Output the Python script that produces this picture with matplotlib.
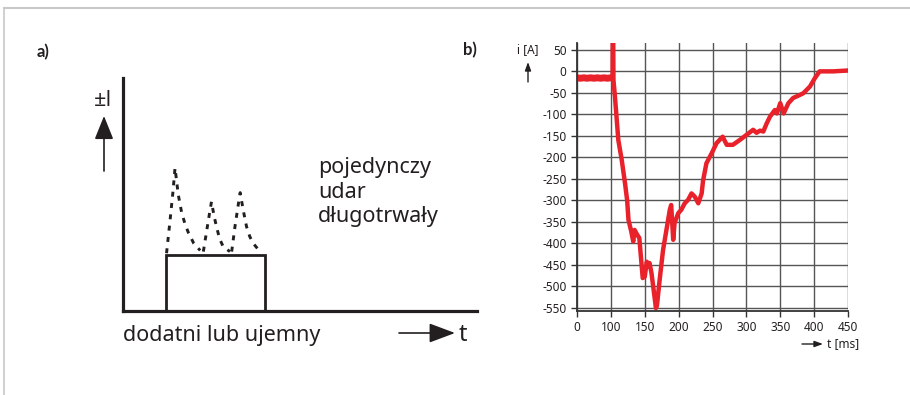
import numpy as np
import matplotlib
matplotlib.use("Agg")
import matplotlib.pyplot as plt
from matplotlib.lines import Line2D
from matplotlib.patches import Rectangle

plt.rcParams['font.family'] = ['Noto Sans', 'DejaVu Sans']
plt.rcParams['axes.unicode_minus'] = False

# ---------------- data ----------------
# panel a) schematic (arbitrary units)
rect_start, rect_end, rect_level = 1.21, 4.01, 2.4
peak1_t = [1.23, 1.33, 1.41, 1.47, 1.56, 1.66, 1.76, 1.85, 2.0, 2.18]
peak1_i = [2.48, 3.9, 5.1, 6.14, 5.0, 4.2, 3.7, 3.35, 2.9, 2.6]
peak2_t = [2.27, 2.37, 2.45, 2.50, 2.57, 2.64, 2.73, 2.83, 3.02]
peak2_i = [2.55, 3.5, 4.25, 4.69, 4.1, 3.62, 3.1, 2.76, 2.55]
peak3_t = [3.07, 3.17, 3.26, 3.31, 3.40, 3.49, 3.58, 3.68, 3.87]
peak3_i = [2.55, 3.7, 4.6, 5.08, 4.3, 3.62, 3.2, 2.90, 2.55]

# panel b) measured current
t_pre = [0, 10, 20, 30, 40, 50, 60, 70, 80, 90, 100, 102.5]
i_pre = [-15, -16, -15, -16, -15, -16, -15, -16, -15, -16, -15, -15]
t_main = [102.5, 103, 103.8, 106, 111, 116, 121, 124, 126, 130, 133, 135, 138, 142, 147, 150,
          153, 155, 157, 160, 162.5, 166.5, 168, 172, 177, 182, 187, 189, 192, 194,
          199.5, 204, 209, 214, 219, 224, 229, 234, 236, 241, 249, 256, 265, 271,
          280, 290, 300, 305, 310, 315, 320, 325, 330, 335, 342, 345, 350, 355, 362, 369,
          376, 384, 394, 401, 408, 428, 450]
i_main = [-15, 200, -20, -59, -160, -206, -262, -300, -346, -372, -396, -369, -378, -388, -481, -478,
          -443, -454, -446, -470, -501, -551, -545, -485, -416, -369, -322, -311, -392, -353,
          -330, -322, -307, -299, -284, -292, -307, -284, -255, -214, -190, -167, -152, -171,
          -171, -160, -148, -142, -136, -143, -138, -140, -121, -105, -90, -98, -74, -98, -74, -62,
          -57, -51, -35, -16, 0, 0, 2]
x_ticks = [0, 100, 150, 200, 250, 300, 350, 400, 450]
y_ticks = list(range(50, -551, -50))

RED = '#e8212b'
DARK = '#231f20'

W, H = 910, 395
fig = plt.figure(figsize=(W / 100, H / 100), dpi=100)

def fx(px):
    return px / W

def fy(py):
    return 1 - py / H

# frame lines of the figure
fig.add_artist(Line2D([fx(4), 1], [fy(8), fy(8)], transform=fig.transFigure,
                      color='#c8c8c8', lw=1.5))
fig.add_artist(Line2D([fx(4), fx(4)], [fy(8), 0], transform=fig.transFigure,
                      color='#c8c8c8', lw=1.2))

# ---------------- panel a ----------------
axa = fig.add_axes([fx(123), fy(311), fx(477) - fx(123), fy(78) - fy(311)])
axa.set_xlim(0, 10)
axa.set_ylim(0, 10)
for s in ['top', 'right']:
    axa.spines[s].set_visible(False)
for s in ['left', 'bottom']:
    axa.spines[s].set_linewidth(2.3)
    axa.spines[s].set_color(DARK)
axa.set_xticks([])
axa.set_yticks([])
axa.patch.set_alpha(0)
axa.add_patch(Rectangle((rect_start, 0), rect_end - rect_start, rect_level,
                        fill=False, lw=2.0, ec=DARK, clip_on=False))
for tt, ii in [(peak1_t, peak1_i), (peak2_t, peak2_i), (peak3_t, peak3_i)]:
    axa.plot(tt, ii, color=DARK, lw=2.1, linestyle=(0, (1.7, 2.2)), solid_capstyle='butt')


def arrow(x0, y0, x1, y1, style, scale, lw):
    axa.annotate('', xy=(x1, H - y1), xytext=(x0, H - y0), xycoords='figure pixels',
                 textcoords='figure pixels', annotation_clip=False,
                 arrowprops=dict(arrowstyle=style, mutation_scale=scale, lw=lw,
                                 color=DARK, shrinkA=0, shrinkB=0))


BOLD = ['Lato', 'Open Sans', 'DejaVu Sans']
fig.text(fx(37), fy(52), 'a)', fontsize=12, fontweight='bold', family=BOLD,
         color=DARK, va='center', ha='left')
fig.text(fx(94), fy(101), '±I', fontsize=15.5, family=['Open Sans', 'DejaVu Sans'],
         color=DARK, va='center', ha='left')
arrow(104, 171, 104, 116, '-|>,head_length=0.72,head_width=0.29', 20, 1.2)
for txt, base in [('pojedynczy', 173), ('udar', 197.5), ('długotrwały', 222)]:
    fig.text(fx(318), fy(base), txt, fontsize=15.5, color=DARK, va='baseline', ha='left')
fig.text(fx(123), fy(341), 'dodatni lub ujemny', fontsize=15.5, color=DARK,
         va='baseline', ha='left')
arrow(399, 333, 455, 333, '-|>,head_length=0.8,head_width=0.3', 20, 1.2)
fig.text(fx(459), fy(341), 't', fontsize=17, color=DARK, va='baseline', ha='left')

# ---------------- panel b ----------------
def fwd(t):
    t = np.asarray(t, dtype=float)
    return np.where(t <= 100, t / 2.0, t - 50.0)

def inv(u):
    u = np.asarray(u, dtype=float)
    return np.where(u <= 50, u * 2.0, u + 50.0)

axb = fig.add_axes([fx(577), fy(310.7), fx(848) - fx(577), fy(43) - fy(310.7)])
axb.set_xscale('function', functions=(fwd, inv))
axb.set_xlim(0, 450)
axb.set_ylim(-557, 66)
axb.set_xticks(x_ticks)
axb.set_xticklabels([str(v) for v in x_ticks])
axb.set_yticks(y_ticks)
axb.set_yticklabels([str(v) for v in y_ticks])
axb.xaxis.set_minor_locator(matplotlib.ticker.NullLocator())
axb.grid(True, color='#555555', lw=1.0)
axb.set_axisbelow(True)
for s in ['top', 'right']:
    axb.spines[s].set_visible(False)
for s in ['left', 'bottom']:
    axb.spines[s].set_linewidth(1.3)
    axb.spines[s].set_color('#333333')
axb.tick_params(axis='both', direction='out', length=4.5, width=1.0, color='#333333',
                labelsize=8.5, labelcolor=DARK)
axb.tick_params(axis='y', pad=3)
axb.tick_params(axis='x', pad=3)

axb.plot(t_pre, i_pre, color=RED, lw=5.0, solid_capstyle='butt', clip_on=True)
axb.plot(t_main, i_main, color=RED, lw=3.2, solid_joinstyle='round', clip_on=True)

fig.text(fx(470), fy(50), 'b)', fontsize=12, fontweight='bold', family=BOLD,
         color=DARK, va='center', ha='center')
fig.text(fx(528), fy(50), 'i [A]', fontsize=8.5, color=DARK, va='center', ha='center')
arrow(528, 82, 528, 62, '-|>,head_length=0.5,head_width=0.18', 10, 1.0)
arrow(802, 344, 823, 344, '-|>,head_length=0.5,head_width=0.18', 10, 1.0)
fig.text(fx(827), fy(344), 't [ms]', fontsize=8.5, color=DARK, va='center', ha='left')

fig.savefig('out.png', dpi=100)
